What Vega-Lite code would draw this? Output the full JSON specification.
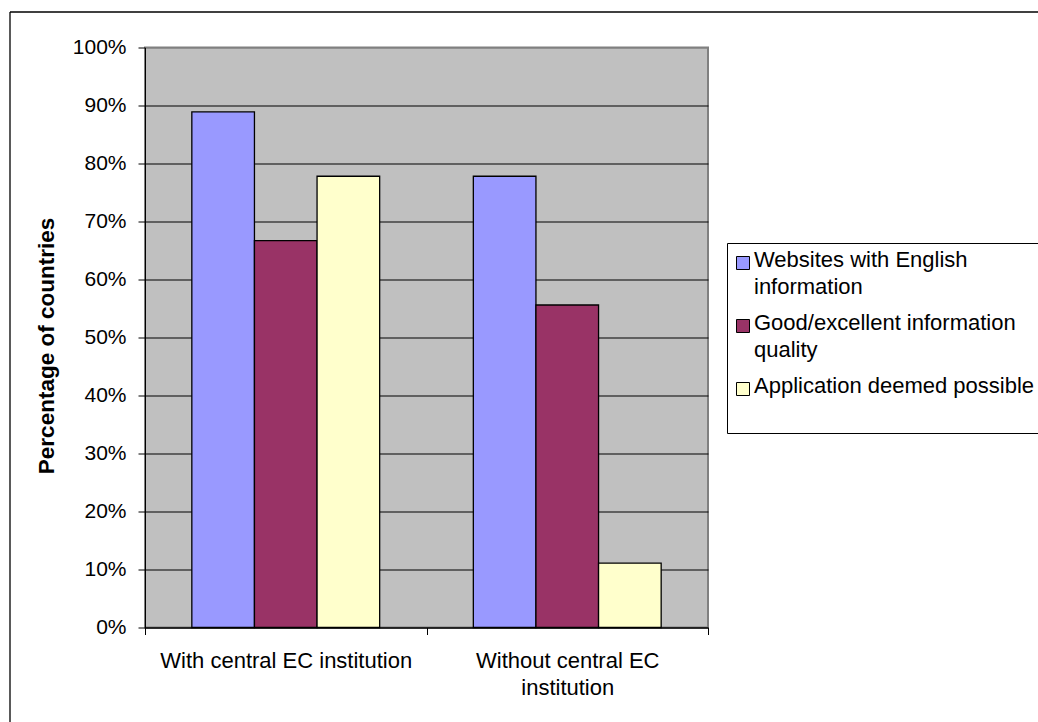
{
  "$schema": "https://vega.github.io/schema/vega-lite/v6.json",
  "width": 563,
  "height": 580,
  "autosize": {"type": "none"},
  "padding": {"left": 145, "top": 47.5, "right": 330, "bottom": 94.5},
  "background": "white",
  "config": {
    "font": "Liberation Sans",
    "view": {"fill": "#C0C0C0", "stroke": "#808080", "strokeWidth": 2}
  },
  "data": {
    "values": [
      {"group": "With central EC institution", "series": "Websites with English information", "value": 0.889},
      {"group": "With central EC institution", "series": "Good/excellent information quality", "value": 0.667},
      {"group": "With central EC institution", "series": "Application deemed possible", "value": 0.778},
      {"group": "Without central EC institution", "series": "Websites with English information", "value": 0.778},
      {"group": "Without central EC institution", "series": "Good/excellent information quality", "value": 0.556},
      {"group": "Without central EC institution", "series": "Application deemed possible", "value": 0.111}
    ]
  },
  "layer": [
    {
      "mark": {"type": "bar", "stroke": "black", "strokeWidth": 1.3},
      "encoding": {
        "x": {
          "field": "group",
          "type": "nominal",
          "sort": null,
          "scale": {"paddingInner": 0, "paddingOuter": 0},
          "axis": {
            "title": null,
            "labelAngle": 0,
            "tickBand": "extent",
            "tickSize": 7,
            "tickColor": "black",
            "domainColor": "black",
            "labelFontSize": 22,
            "labelColor": "black",
            "labelPadding": 16,
            "labelLineHeight": 27,
            "labelLimit": 0,
            "labelOverlap": false,
            "grid": false,
            "labelExpr": "datum.value == 'Without central EC institution' ? ['Without central EC', 'institution'] : datum.value"
          }
        },
        "xOffset": {
          "field": "series",
          "type": "nominal",
          "sort": ["Websites with English information", "Good/excellent information quality", "Application deemed possible"],
          "scale": {"paddingInner": 0, "paddingOuter": 0.748}
        },
        "y": {
          "field": "value",
          "type": "quantitative",
          "scale": {"domain": [0, 1], "nice": false},
          "axis": {
            "values": [0, 0.1, 0.2, 0.3, 0.4, 0.5, 0.6, 0.7, 0.8, 0.9, 1],
            "format": ".0%",
            "labelFontSize": 21,
            "labelColor": "black",
            "labelPadding": 12,
            "tickSize": 7,
            "tickColor": "black",
            "domainColor": "black",
            "grid": true,
            "gridColor": {"condition": {"test": "datum.value >= 0.999", "value": "#808080"}, "value": "black"},
            "gridOpacity": 1,
            "title": "Percentage of countries",
            "titleFontSize": 22.5,
            "titleFontWeight": "bold",
            "titleColor": "black",
            "titleAngle": -90,
            "titleX": -92,
            "titleY": 298,
            "titleAlign": "center",
            "titleBaseline": "alphabetic"
          }
        },
        "color": {
          "field": "series",
          "type": "nominal",
          "scale": {
            "domain": ["Websites with English information", "Good/excellent information quality", "Application deemed possible"],
            "range": ["#9999FF", "#993366", "#FFFFCC"]
          },
          "legend": {
            "orient": "none",
            "legendX": 582,
            "legendY": 195.5,
            "title": null,
            "strokeColor": "black",
            "fillColor": "white",
            "padding": 9,
            "symbolType": "square",
            "symbolSize": 169,
            "symbolOffset": -4,
            "symbolStrokeColor": "black",
            "symbolStrokeWidth": 1,
            "symbolOpacity": 1,
            "labelFontSize": 22,
            "labelColor": "black",
            "labelLimit": 0,
            "labelOffset": 0,
            "rowPadding": 14,
            "labelBaseline": "alphabetic",
            "labelExpr": "datum.label == 'Websites with English information' ? ['Websites with English', 'information'] : datum.label == 'Good/excellent information quality' ? ['Good/excellent information', 'quality'] : [datum.label, '']",
            "encode": {"labels": {"update": {"lineHeight": {"value": 27}, "dy": {"value": 4}}}}
          }
        }
      }
    },
    {
      "mark": {"type": "point", "opacity": 0},
      "encoding": {
        "x": {
          "field": "value",
          "type": "quantitative",
          "scale": {"domain": [0, 1], "nice": false, "zero": false, "range": [-135.5, 950]},
          "axis": {"orient": "top", "offset": 36, "domainColor": "black", "domainWidth": 1.3, "ticks": false, "labels": false, "grid": false, "title": null}
        },
        "y": {
          "field": "value",
          "type": "quantitative",
          "scale": {"domain": [0, 1], "nice": false, "zero": false, "range": [720, -36]},
          "axis": {"orient": "left", "offset": 135.5, "domainColor": "black", "domainWidth": 1.3, "ticks": false, "labels": false, "grid": false, "title": null}
        }
      }
    }
  ],
  "resolve": {"scale": {"x": "independent", "y": "independent"}}
}
